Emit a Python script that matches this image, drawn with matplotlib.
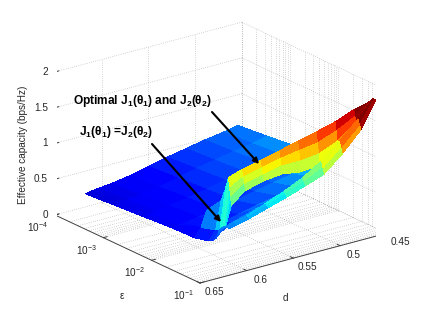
import matplotlib
matplotlib.use("Agg")
import matplotlib.pyplot as plt
import numpy as np
from matplotlib.colors import PowerNorm
from mpl_toolkits.mplot3d import proj3d

plt.rcParams['font.family'] = ['Liberation Sans', 'DejaVu Sans']
plt.rcParams['mathtext.fontset'] = 'custom'
plt.rcParams['mathtext.rm'] = 'Liberation Sans'
plt.rcParams['mathtext.bf'] = 'Liberation Sans:bold'
plt.rcParams['mathtext.fallback'] = 'stixsans'

# surface in four sheets, rows are d, columns are log10(epsilon)
d_values = [0.617, 0.61, 0.604, 0.59, 0.57, 0.55, 0.53, 0.51, 0.49, 0.47, 0.454]

# flat blue part
flat_exp = [-4, -3.4, -2.8, -2.2, -1.75, -1.45, -1.36]
flat_capacity = [
    [.18, .21, .24, .27, .28, .33, .37],
    [.20, .23, .26, .29, .40, .46, .50],
    [.21, .24, .27, .30, .36, .42, .50],
    [.23, .26, .30, .33, .38, .50, .58],
    [.27, .30, .34, .37, .44, .60, .64],
    [.33, .36, .39, .42, .50, .64, .70],
    [.39, .42, .45, .48, .56, .72, .80],
    [.44, .47, .50, .53, .62, .80, .92],
    [.49, .52, .55, .58, .70, 1.00, 1.10],
    [.53, .56, .60, .64, .80, 1.18, 1.32],
    [.57, .61, .66, .72, 1.00, 1.38, 1.50],
]

# corner at the near end of the ridge
front_d = [0.617, 0.61, 0.604]
front_exp = [-1.75, -1.45, -1.36, -1.3, -1.279, -1.258, -1.24]
front_capacity = [
    [.28, .33, .37, .42, .46, .50, .55],
    [.40, .46, .50, .53, .55, .56, .58],
    [.62, .85, 1.05, 1.22, 1.10, .98, .85],
]

# ridge top and the face below it
ridge_d = [0.604, 0.59, 0.57, 0.55, 0.53, 0.51, 0.49, 0.47, 0.454]
ridge_exp = [-1.3, -1.279, -1.258, -1.24]
ridge_capacity = [
    [1.22, 1.10, .98, .85],
    [1.28, 1.20, 1.10, 1.00],
    [1.34, 1.26, 1.16, 1.07],
    [1.40, 1.32, 1.22, 1.10],
    [1.47, 1.36, 1.22, 1.06],
    [1.53, 1.40, 1.25, 1.08],
    [1.60, 1.50, 1.36, 1.20],
    [1.70, 1.63, 1.55, 1.45],
    [1.75, 1.77, 1.78, 1.80],
]

# front lip of the surface
lip_exp = [-1.21, -1.18, -1.15]
lip_capacity = [
    [.58, .59, .61],
    [.60, .59, .58],
    [.62, .61, .60],
    [.66, .65, .64],
    [.76, .74, .72],
    [.86, .83, .80],
    [.98, .93, .89],
    [1.14, 1.06, .98],
    [1.36, 1.28, 1.20],
    [1.60, 1.53, 1.47],
    [1.83, 1.83, 1.83],
]

d_ticks = [0.45, 0.5, 0.55, 0.6, 0.65]
eps_ticks = [-4, -3, -2, -1]
z_ticks = [0, 0.5, 1, 1.5, 2]

grid_color = '#999999'
axis_color = '#404040'

fig = plt.figure(figsize=(4.24, 3.19), dpi=100)
ax = fig.add_axes([0, 0, 1, 1], projection='3d', proj_type='ortho', computed_zorder=False)
ax.set_axis_off()
ax.view_init(elev=20.7, azim=53)
ax.set_xlim(0.45, 0.65, view_margin=0)
ax.set_ylim(-4, -1, view_margin=0)
ax.set_zlim(0, 2, view_margin=0)
aspect = (234, 241, 153)
ax.set_box_aspect(aspect)


def to_px(x, y, z):
    ax.apply_aspect()
    px, py, _ = proj3d.proj_transform(x, y, z, ax.get_proj())
    return ax.transData.transform((px, py))


# put the box where it is in the reference: front corner (200,283), left corner (55,215)
p1, p2 = to_px(0.65, -1, 0), to_px(0.65, -4, 0)
scale = np.hypot(145, 68) / np.hypot(*(p1 - p2))
ax.set_box_aspect(aspect, zoom=scale)
p1 = to_px(0.65, -1, 0)
shift = np.array([200 - p1[0], (319 - 283) - p1[1]])
ax.set_position([shift[0] / 424, shift[1] / 319, 1, 1])

# dotted grid on floor and the two back walls
minor = [e + np.log10(m) for e in eps_ticks[:-1] for m in range(2, 10)]
grid_kw = dict(color=grid_color, lw=0.45, ls=(0, (1, 2.5)), zorder=1)
for d in d_ticks[:-1]:
    ax.plot([d, d], [-4, -1], [0, 0], **grid_kw)
    ax.plot([d, d], [-4, -4], [0, 2], **grid_kw)
for e in eps_ticks[1:] + minor:
    ax.plot([0.45, 0.65], [e, e], [0, 0], **grid_kw)
    ax.plot([0.45, 0.45], [e, e], [0, 2], **grid_kw)
for z in z_ticks[1:]:
    ax.plot([0.45, 0.65], [-4, -4], [z, z], **grid_kw)
    ax.plot([0.45, 0.45], [-4, -1], [z, z], **grid_kw)
ax.plot([0.45, 0.45], [-4, -4], [0, 2], **grid_kw)
ax.plot([0.45, 0.65], [-4, -4], [0, 0], **grid_kw)
ax.plot([0.45, 0.45], [-4, -1], [0, 0], **grid_kw)

norm = PowerNorm(1.5, vmin=-0.15, vmax=1.7)
surf_kw = dict(cmap='jet', norm=norm, rstride=1, cstride=1, shade=False, linewidth=0, antialiased=False)
sheets = [(d_values, flat_exp, flat_capacity, 2), (front_d, front_exp, front_capacity, 3),
          (ridge_d, ridge_exp, ridge_capacity, 3), (d_values, lip_exp, lip_capacity, 4)]
for rows, cols, vals, order in sheets:
    D, E = np.meshgrid(rows, cols, indexing='ij')
    ax.plot_surface(D, E, np.array(vals), zorder=order, **surf_kw)

# axis lines and ticks
line_kw = dict(color=axis_color, lw=0.7, zorder=5)
ax.plot([0.65, 0.65], [-4, -4], [0, 2], **line_kw)
ax.plot([0.65, 0.65], [-4, -1], [0, 0], **line_kw)
ax.plot([0.45, 0.65], [-1, -1], [0, 0], **line_kw)
for z in z_ticks:
    ax.plot([0.65, 0.646], [-4, -4], [z, z], **line_kw)
for e in eps_ticks:
    ax.plot([0.65, 0.646], [e, e], [0, 0], **line_kw)
for d in d_ticks:
    ax.plot([d, d], [-1, -1.06], [0, 0], **line_kw)


def tick_label(text, x, y, z, dx, dy, **kw):
    px, py, _ = proj3d.proj_transform(x, y, z, ax.get_proj())
    ax.annotate(text, xy=(px, py), xytext=(dx, dy), textcoords='offset pixels',
                fontsize=7.2, color='#262626', va='center', annotation_clip=False, **kw)


for z in z_ticks:
    tick_label(f"{z:g}", 0.65, -4, z, -7, 0, ha='right')
for e in eps_ticks:
    tick_label(f"$\\mathregular{{10^{{{e}}}}}$", 0.65, e, 0, -17, -12, ha='center')
for d in d_ticks:
    tick_label(f"{d:g}", d, -1, 0, 14, -9, ha='center')

fig.text(122 / 424, 1 - 296 / 319, "ε", fontsize=7.2, ha='center', va='center', color='#262626')
fig.text(285 / 424, 1 - 298 / 319, "d", fontsize=7.2, ha='center', va='center', color='#262626')
fig.text(23 / 424, 1 - 145 / 319, "Effective capacity (bps/Hz)", fontsize=7.2, rotation=90,
         ha='center', va='center', color='#262626')

fig.text(73 / 424, 1 - 101 / 319, r"Optimal $\mathbf{J_1(\theta_1)}$ and $\mathbf{J_2(\theta_2)}$",
         fontsize=8.6, fontweight='bold', va='center')
fig.text(79 / 424, 1 - 132 / 319, r"$\mathbf{J_1(\theta_1)}$ =$\mathbf{J_2(\theta_2)}$",
         fontsize=8.6, fontweight='bold', va='center')

for start, end in [((152, 144), (221, 222)), ((212, 112), (259, 164))]:
    fig.add_artist(matplotlib.patches.FancyArrowPatch(
        (start[0] / 424, 1 - start[1] / 319), (end[0] / 424, 1 - end[1] / 319),
        transform=fig.transFigure, arrowstyle='-|>', mutation_scale=8, lw=1.5, color='black',
        shrinkA=0, shrinkB=0))

fig.savefig("out.png", dpi=100)
